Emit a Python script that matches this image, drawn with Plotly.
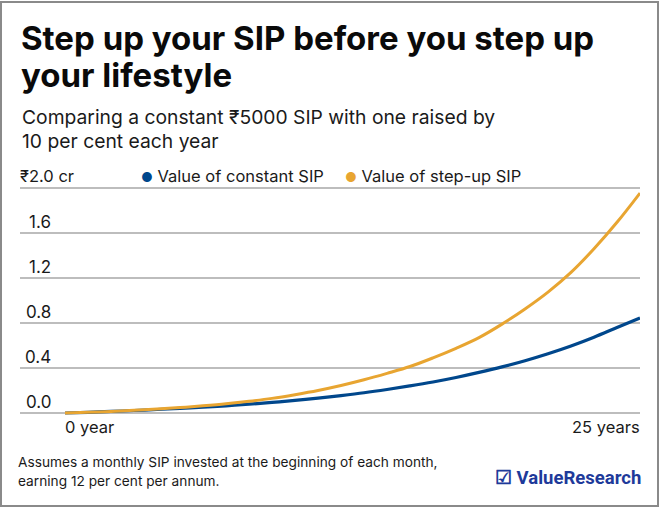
import plotly.graph_objects as go

years = list(range(0, 26))
constant_sip = [0.0, 0.006, 0.014, 0.022, 0.031, 0.041, 0.052, 0.064, 0.078, 0.094,
                0.112, 0.132, 0.155, 0.18, 0.209, 0.241, 0.276, 0.316, 0.361, 0.41,
                0.465, 0.527, 0.596, 0.674, 0.76, 0.845]
stepup_sip = [0.0, 0.0064, 0.014, 0.024, 0.035, 0.048, 0.064, 0.082, 0.104, 0.13,
              0.163, 0.2, 0.244, 0.295, 0.352, 0.413, 0.49, 0.575, 0.67, 0.79,
              0.925, 1.075, 1.25, 1.46, 1.695, 1.955]
y_ticks = [0.0, 0.4, 0.8, 1.2, 1.6]
y_tick_labels = ["0.0", "0.4", "0.8", "1.2", "1.6"]
x_labels = ["0 year", "25 years"]
series_names = ["Value of constant SIP", "Value of step-up SIP"]

BLUE = "#00478C"
GOLD = "#E8A531"
FONT = "Inter, 'Open Sans', sans-serif"
TXT = "#1a1a1a"

W, H = 660, 508
L, R, T, B = 20, 20, 186, 93
PW, PH = W - L - R, H - T - B


def px(x):
    return (x - L) / PW


def py(y):
    return (H - B - y) / PH


fig = go.Figure()
fig.add_trace(go.Scatter(x=years, y=constant_sip, mode="lines", name=series_names[0],
                         line=dict(color=BLUE, width=3.2, shape="spline"),
                         cliponaxis=False, showlegend=False))
fig.add_trace(go.Scatter(x=years, y=stepup_sip, mode="lines", name=series_names[1],
                         line=dict(color=GOLD, width=3, shape="spline"),
                         cliponaxis=False, showlegend=False))

unit = 225 / 2.0  # px per crore
pad = 2 / unit
x_per_year = 575 / 25

fig.update_layout(
    width=W, height=H,
    margin=dict(l=L, r=R, t=T, b=B),
    paper_bgcolor="white", plot_bgcolor="white",
    font=dict(family=FONT, color=TXT),
    xaxis=dict(range=[-45 / x_per_year, 25], showgrid=False, zeroline=False,
               showticklabels=False, showline=False, fixedrange=True),
    yaxis=dict(range=[-pad, 2.0 + pad], tick0=0, dtick=0.4, showgrid=True,
               gridcolor="#BDBDBD", gridwidth=1.5, zeroline=False,
               showticklabels=False, showline=False, fixedrange=True),
)

ann = []


def text_line(txt, x, yc, size, color=TXT, bold=False, family=FONT, anchor="left"):
    ann.append(dict(x=px(x), y=py(yc), xref="paper", yref="paper", xanchor=anchor,
                    yanchor="middle", text=f"<b>{txt}</b>" if bold else txt,
                    showarrow=False, font=dict(size=size, family=family, color=color)))


# title
text_line("Step up your SIP before you step up", 19, 38, 33, color="#0a0a0a", bold=True)
text_line("your lifestyle", 19, 75, 33, color="#0a0a0a", bold=True)
# subtitle
text_line("Comparing a constant ₹5000 SIP with one raised by", 20, 117, 19.3)
text_line("10 per cent each year", 20, 141, 19.3)
# y tick labels
for v, lab in zip(y_ticks, y_tick_labels):
    ann.append(dict(x=px(53), y=v, xref="paper", yref="y", xanchor="right", yanchor="middle",
                    yshift=11.5, text=lab, showarrow=False,
                    font=dict(size=17, family=FONT, color=TXT)))
ann.append(dict(x=px(18), y=2.0, xref="paper", yref="y", xanchor="left", yanchor="middle",
                yshift=12, text="₹2.0 cr", showarrow=False,
                font=dict(size=16.5, family=FONT, color=TXT)))
# legend
ann.append(dict(x=px(139), y=2.0, xref="paper", yref="y", xanchor="left", yanchor="middle",
                yshift=12, showarrow=False,
                text=f"<span style='color:{BLUE};font-size:13px'>●</span> {series_names[0]}",
                font=dict(size=16.5, family=FONT, color=TXT)))
ann.append(dict(x=px(343), y=2.0, xref="paper", yref="y", xanchor="left", yanchor="middle",
                yshift=12, showarrow=False,
                text=f"<span style='color:{GOLD};font-size:13px'>●</span> {series_names[1]}",
                font=dict(size=16.5, family=FONT, color=TXT)))
# x labels
ann.append(dict(x=0, y=py(427), xref="x", yref="paper", xanchor="left", yanchor="middle",
                xshift=-2, text=x_labels[0], showarrow=False,
                font=dict(size=16.5, family=FONT, color=TXT)))
ann.append(dict(x=25, y=py(427), xref="x", yref="paper", xanchor="right", yanchor="middle",
                xshift=2, text=x_labels[1], showarrow=False,
                font=dict(size=16.5, family=FONT, color=TXT)))
# footer
text_line("Assumes a monthly SIP invested at the beginning of each month,", 16, 462, 13.7)
text_line("earning 12 per cent per annum.", 16, 481, 13.7)
# logo
text_line("☑ ValueResearch", 643, 478, 18.5, color="#1E3A9A", bold=True,
          family="Roboto, sans-serif", anchor="right")
fig.update_layout(annotations=ann)

fig.add_shape(type="rect", xref="paper", yref="paper",
              x0=px(1), x1=px(658), y0=py(506), y1=py(2),
              line=dict(color="#8A8A8A", width=2), fillcolor="rgba(0,0,0,0)", layer="below")

fig.write_html("out.html")
